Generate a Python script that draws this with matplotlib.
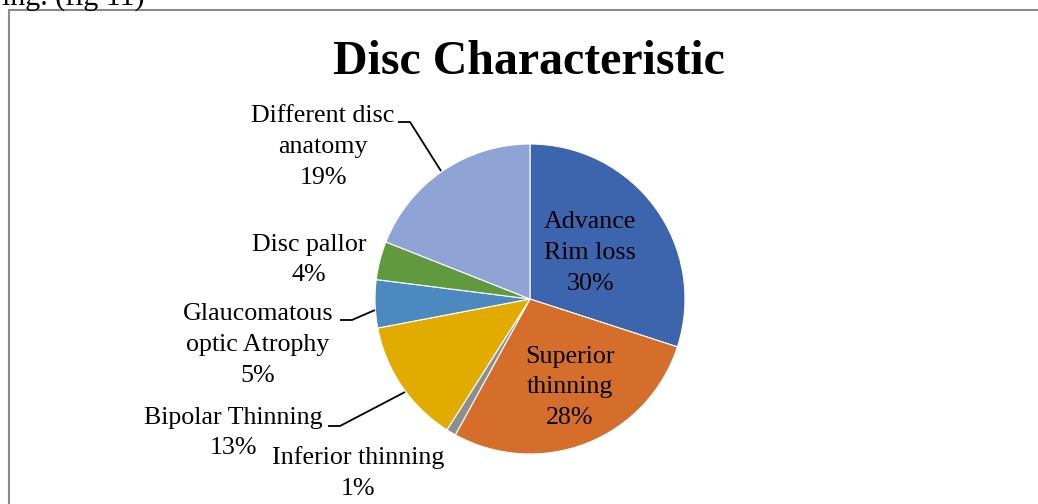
import matplotlib
matplotlib.use("Agg")
import matplotlib.pyplot as plt
from matplotlib.patches import Rectangle

# Data
categories = [
    "Advance\nRim loss",
    "Superior\nthinning",
    "Inferior thinning",
    "Bipolar Thinning",
    "Glaucomatous\noptic Atrophy",
    "Disc pallor",
    "Different disc\nanatomy",
]
percentages = [30, 28, 1, 13, 5, 4, 19]
colors = ["#3D65AE", "#D56E2B", "#8E8E8E", "#E2AB00", "#4C89C1", "#619A3E", "#8FA3D4"]

W, H = 1038, 504
fig = plt.figure(figsize=(W / 100, H / 100), dpi=100)
ax = fig.add_axes([0, 0, 1, 1])

serif = ["Liberation Serif", "DejaVu Serif"]

def py(y):
    # convert a top-down pixel row to the axes' y coordinate
    return H - y

cx, cy, r = 530, py(299), 155
ax.pie(percentages, colors=colors, startangle=90, counterclock=False,
       center=(cx, cy), radius=r,
       wedgeprops=dict(edgecolor="white", linewidth=0.8))
ax.set_xlim(0, W)
ax.set_ylim(0, H)
ax.set_aspect("equal")
ax.axis("off")

# chart frame (right and bottom edges run off the canvas)
ax.add_patch(Rectangle((8.5, -20), W + 20, py(9.5) + 20, fill=False,
                       edgecolor="#8a8a8a", linewidth=1.5, clip_on=False))

# text from the surrounding page, cut off at the top
ax.text(145, py(5.5), "ing. (fig 11)", ha="right", va="baseline",
        fontsize=21.5, family=serif, color="black")

ax.text(529, py(74), "Disc Characteristic", ha="center", va="baseline",
        fontsize=34.5, fontweight="bold", family=serif)

fs = 18.7
ls = 1.5

def label(x, y, name, pct):
    ax.text(x, py(y), f"{name}\n{pct}%", ha="center", va="center",
            fontsize=fs, family=serif, linespacing=ls, multialignment="center")

label(590, 253, categories[0], percentages[0])
label(570, 387, categories[1], percentages[1])
label(358, 473, categories[2], percentages[2])
label(233, 433, categories[3], percentages[3])
label(258, 345, categories[4], percentages[4])
label(309, 260, categories[5], percentages[5])
label(323, 147, categories[6], percentages[6])

# leader lines
def leader(pts):
    xs = [p[0] for p in pts]
    ys = [py(p[1]) for p in pts]
    ax.plot(xs, ys, color="black", linewidth=1.3, solid_capstyle="butt")

leader([(398, 122), (410, 122), (441, 171)])
leader([(340, 320), (352, 320), (375, 310)])
leader([(328, 426), (340, 426), (405, 392)])

fig.savefig("out.png", dpi=100, facecolor="white")
